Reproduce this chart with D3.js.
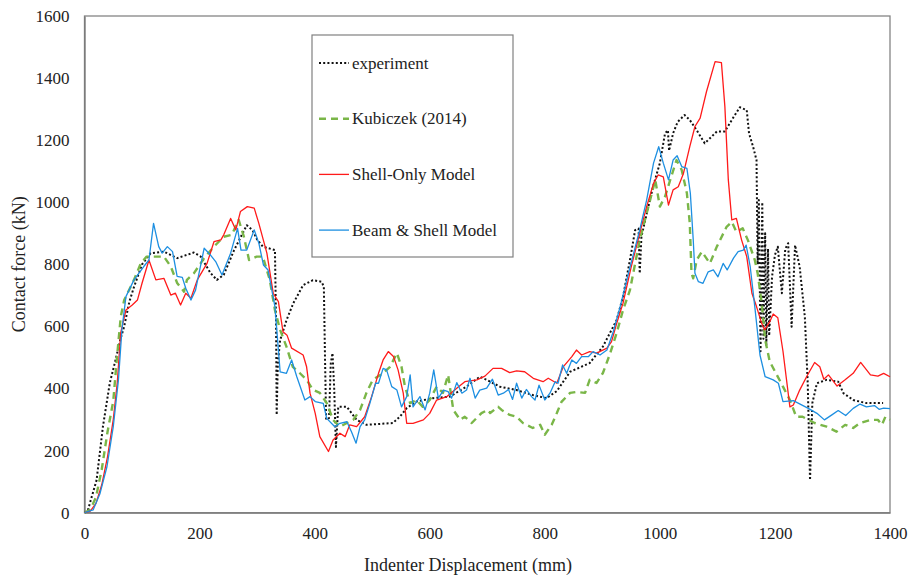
<!DOCTYPE html>
<html>
<head>
<meta charset="utf-8">
<script src="https://cdn.jsdelivr.net/npm/d3@7"></script>
<style>
  body { margin: 0; background: #fff; }
  text { font-family: "Liberation Serif", "Times New Roman", serif; fill: #222; }
</style>
</head>
<body>
<div id="chart"></div>
<script>
// displacement (mm), force (kN)
const experiment = [
  [0,0],[6,9],[21,105],[32,277],[44,418],[55,500],[62,556],[69,600],[78,680],[86,727],[100,800],
  [115,836],[138,841],[161,820],[190,838],[202,825],[219,772],[230,750],[242,766],[260,846],
  [282,926],[292,910],[300,880],[310,857],[331,846],[333,600],[334,315],[336,480],[340,556],
  [351,620],[363,675],[380,733],[397,749],[412,744],[416,728],[418,500],[420,300],[425,305],
  [428,480],[431,514],[434,400],[437,212],[441,341],[456,341],[473,299],[490,283],[536,289],
  [548,309],[560,337],[577,358],[606,369],[635,374],[664,406],[687,438],[699,428],[722,406],
  [751,395],[779,379],[803,369],[821,392],[844,454],[878,482],[901,535],[925,621],[936,696],
  [948,814],[957,910],[963,915],[965,771],[968,890],[988,1049],[1000,1126],[1009,1222],
  [1014,1232],[1016,1166],[1023,1222],[1031,1259],[1043,1281],[1052,1265],[1064,1232],
  [1078,1190],[1087,1206],[1099,1228],[1113,1228],[1125,1265],[1139,1306],[1151,1297],
  [1155,1222],[1162,1179],[1168,1136],[1170,800],[1172,1007],[1175,520],[1178,1000],
  [1180,560],[1183,900],[1185,540],[1188,850],[1190,570],[1195,760],[1200,830],[1205,857],
  [1212,707],[1218,850],[1223,868],[1229,599],[1235,862],[1243,792],[1252,631],[1257,417],
  [1261,105],[1265,353],[1273,417],[1290,428],[1310,422],[1319,385],[1336,363],[1359,353],[1388,353]
];
const kubiczek = [
  [0,0],[10,10],[20,50],[30,140],[40,260],[50,360],[56,491],[63,631],[69,685],[86,750],[98,804],
  [108,825],[121,825],[138,825],[150,793],[161,740],[173,712],[178,750],[190,771],[208,820],
  [225,857],[242,889],[256,895],[268,943],[277,889],[286,814],[299,825],[310,825],[322,750],
  [331,653],[340,589],[351,535],[362,470],[374,450],[386,428],[397,396],[409,386],[421,353],
  [432,299],[444,277],[456,289],[467,299],[479,331],[490,386],[501,428],[519,450],[531,470],
  [543,514],[551,470],[557,406],[566,353],[577,363],[588,341],[600,363],[612,406],[623,386],
  [632,444],[641,331],[653,299],[661,309],[673,289],[690,321],[701,331],[705,321],[719,341],
  [725,331],[739,315],[751,309],[762,289],[779,273],[792,283],[800,251],[812,283],[821,321],
  [829,357],[844,386],[855,389],[870,386],[878,428],[890,418],[901,450],[913,510],[925,579],
  [936,653],[948,717],[965,878],[983,1007],[992,1072],[1000,986],[1009,1018],[1018,1072],
  [1029,1136],[1038,1104],[1047,1029],[1052,933],[1055,771],[1058,755],[1064,814],[1073,841],
  [1087,803],[1099,857],[1116,921],[1125,937],[1133,905],[1144,916],[1153,878],[1165,814],
  [1170,771],[1177,675],[1183,557],[1191,487],[1203,445],[1214,406],[1226,363],[1237,309],
  [1248,309],[1269,289],[1290,277],[1307,261],[1322,283],[1336,273],[1348,289],[1366,299],
  [1379,299],[1386,283],[1392,309],[1400,299]
];
const shellOnly = [
  [0,0],[10,5],[20,30],[30,90],[40,180],[50,300],[57,420],[63,580],[72,653],[83,669],[92,685],
  [100,739],[112,814],[124,750],[138,755],[150,701],[158,707],[167,669],[176,707],[185,691],
  [196,750],[213,803],[225,873],[237,879],[242,895],[254,948],[263,911],[271,970],[283,986],
  [295,981],[303,932],[317,836],[328,707],[337,680],[345,583],[352,572],[360,530],[380,508],
  [386,470],[392,385],[401,320],[409,245],[424,197],[432,234],[444,256],[453,245],[461,283],
  [473,277],[487,309],[499,374],[511,449],[519,492],[528,519],[537,503],[545,460],[554,385],
  [560,288],[571,288],[589,299],[600,320],[612,363],[630,374],[647,401],[661,422],[682,428],
  [696,440],[710,465],[725,465],[739,451],[751,457],[765,454],[780,433],[797,422],[806,433],
  [821,417],[832,470],[847,503],[855,524],[864,508],[878,519],[890,514],[908,530],[916,551],
  [925,610],[936,675],[950,790],[965,900],[977,986],[989,1061],[997,1088],[1006,1082],
  [1015,991],[1023,1040],[1032,1050],[1041,1093],[1052,1179],[1061,1244],[1070,1271],
  [1081,1356],[1096,1453],[1107,1450],[1113,1308],[1119,1072],[1125,943],[1133,948],
  [1142,879],[1151,825],[1160,707],[1168,664],[1177,610],[1182,589],[1191,615],[1197,640],
  [1205,628],[1214,520],[1226,341],[1232,347],[1243,395],[1255,438],[1269,484],[1278,470],
  [1285,430],[1293,444],[1308,408],[1322,428],[1336,449],[1349,484],[1366,444],[1379,440],
  [1389,449],[1400,438]
];
const beamShell = [
  [0,0],[15,9],[27,62],[39,148],[50,277],[59,428],[65,589],[72,696],[86,750],[103,793],
  [112,814],[120,932],[129,857],[135,836],[144,857],[153,841],[161,761],[170,758],[176,723],
  [185,685],[193,717],[208,852],[219,830],[228,809],[239,766],[254,836],[266,916],[272,846],
  [282,846],[295,911],[303,868],[311,798],[319,782],[331,664],[340,454],[351,449],[360,492],
  [369,438],[383,363],[392,374],[401,358],[415,352],[421,304],[435,277],[444,288],[456,293],
  [464,261],[472,224],[479,277],[487,299],[496,352],[506,417],[511,417],[519,465],[525,460],
  [534,406],[543,395],[551,341],[560,374],[566,444],[571,341],[583,374],[592,331],[600,385],
  [607,460],[615,369],[624,395],[632,390],[638,369],[647,419],[656,385],[664,395],[670,433],
  [679,369],[687,395],[699,401],[709,430],[719,379],[728,385],[737,397],[744,365],[751,417],
  [760,369],[768,397],[777,374],[783,363],[790,411],[800,363],[809,385],[818,422],[823,417],
  [831,476],[838,449],[847,492],[855,481],[864,503],[876,503],[884,519],[896,508],[908,524],
  [919,583],[931,664],[948,790],[965,911],[977,1007],[989,1126],[998,1179],[1006,1126],
  [1015,1072],[1023,1136],[1030,1150],[1038,1115],[1047,1109],[1053,1029],[1058,879],
  [1061,771],[1067,744],[1075,739],[1084,776],[1093,782],[1101,760],[1110,803],[1117,782],
  [1128,820],[1136,841],[1145,846],[1150,862],[1157,793],[1165,664],[1174,508],[1183,438],
  [1197,428],[1206,417],[1214,358],[1232,361],[1258,336],[1273,320],[1286,299],[1299,315],
  [1310,329],[1323,313],[1336,336],[1348,350],[1359,341],[1373,345],[1381,333],[1389,337],[1400,335]
];

const xTicks = [0, 200, 400, 600, 800, 1000, 1200, 1400];
const yTicks = [0, 200, 400, 600, 800, 1000, 1200, 1400, 1600];

const series = [
  { name: "experiment", data: experiment, color: "#111", width: 2, dash: "2,2.2" },
  { name: "Kubiczek (2014)", data: kubiczek, color: "#7ab648", width: 2.4, dash: "7,5" },
  { name: "Shell-Only Model", data: shellOnly, color: "#ff1a1a", width: 1.3, dash: null },
  { name: "Beam & Shell Model", data: beamShell, color: "#1d8fe1", width: 1.3, dash: null }
];

const W = 909, H = 576;
const m = { left: 84.5, right: 19, top: 16, bottom: 63.3 };

const svg = d3.select("#chart").append("svg")
  .attr("width", W).attr("height", H);

const x = d3.scaleLinear().domain([0, 1400]).range([m.left, W - m.right]);
const y = d3.scaleLinear().domain([0, 1600]).range([H - m.bottom, m.top]);

// plot frame
svg.append("rect")
  .attr("x", x(0)).attr("y", y(1600))
  .attr("width", x(1400) - x(0)).attr("height", y(0) - y(1600))
  .attr("fill", "none").attr("stroke", "#858585").attr("stroke-width", 1.3);

const fmt = d3.format("d");
const xAxis = svg.append("g")
  .attr("transform", `translate(0,${y(0)})`)
  .call(d3.axisBottom(x).tickValues(xTicks).tickFormat(fmt).tickSize(0).tickPadding(14));
const yAxis = svg.append("g")
  .attr("transform", `translate(${x(0)},0)`)
  .call(d3.axisLeft(y).tickValues(yTicks).tickFormat(fmt).tickSize(0).tickPadding(15));
[xAxis, yAxis].forEach(g => {
  g.select(".domain").attr("stroke", "#777").attr("stroke-width", 1.3);
  g.selectAll("text").attr("font-size", 17).attr("font-family", "Liberation Serif").attr("fill", "#222");
});

svg.append("text")
  .attr("x", 468).attr("y", 571)
  .attr("text-anchor", "middle").attr("font-size", 18)
  .text("Indenter Displacement (mm)");
svg.append("text")
  .attr("transform", `translate(25,${(y(0) + y(1600)) / 2}) rotate(-90)`)
  .attr("text-anchor", "middle").attr("font-size", 18)
  .text("Contact force (kN)");

const line = d3.line().x(d => x(d[0])).y(d => y(d[1]));

series.forEach(s => {
  svg.append("path")
    .datum(s.data)
    .attr("d", line)
    .attr("fill", "none")
    .attr("stroke", s.color)
    .attr("stroke-width", s.width)
    .attr("stroke-dasharray", s.dash)
    .attr("stroke-linejoin", "round");
});

// legend
const lg = svg.append("g");
lg.append("rect")
  .attr("x", 312).attr("y", 35).attr("width", 201).attr("height", 222)
  .attr("fill", "#fff").attr("stroke", "#808080").attr("stroke-width", 1.2);
series.forEach((s, i) => {
  const cy = 63 + i * 55.7;
  lg.append("line")
    .attr("x1", 319).attr("x2", 349).attr("y1", cy).attr("y2", cy)
    .attr("stroke", s.color).attr("stroke-width", s.width)
    .attr("stroke-dasharray", s.dash);
  lg.append("text")
    .attr("x", 352).attr("y", cy + 5.5)
    .attr("font-size", 17)
    .text(s.name);
});
</script>
</body>
</html>
